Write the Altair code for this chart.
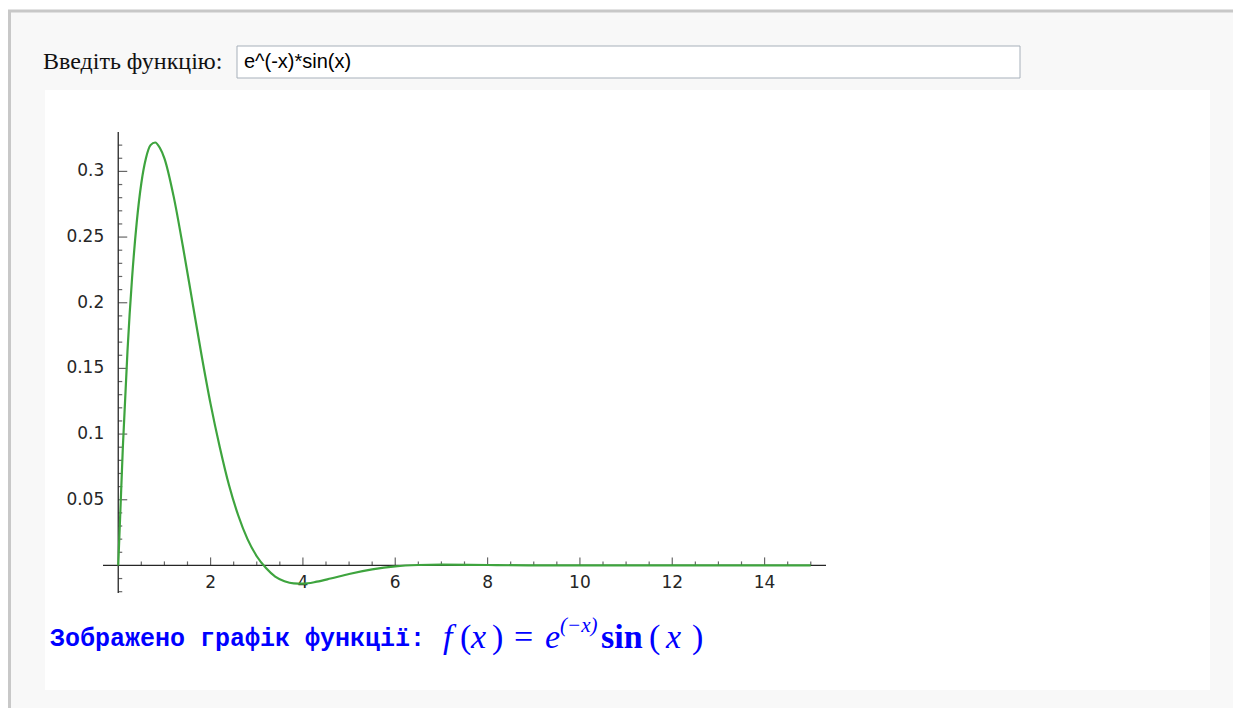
import altair as alt
import pandas as pd

# ---- curve samples (x, f(x)) ----
curve_x = [0, 0.1, 0.2, 0.3, 0.4, 0.5, 0.6, 0.7, 0.8, 0.9, 1.0, 1.2, 1.4, 1.6, 1.8,
           2.0, 2.2, 2.4, 2.6, 2.8, 3.0, 3.2, 3.4, 3.6, 3.8, 4.0, 4.3, 4.6, 5.0,
           5.5, 6.0, 6.5, 7.0, 8.0, 9.0, 10.0, 12.0, 15.0]
curve_y = [0.0, 0.090, 0.163, 0.219, 0.261, 0.291, 0.310, 0.320, 0.322, 0.318, 0.310,
           0.281, 0.243, 0.202, 0.161, 0.123, 0.090, 0.061, 0.038, 0.020, 0.007,
           -0.002, -0.0085, -0.012, -0.0137, -0.0139, -0.0124, -0.010, -0.0065,
           -0.003, -0.0007, 0.0003, 0.0006, 0.0003, 0.0, 0.0, 0.0, 0.0]

# ---- axes ----
x_range = [-0.33, 15.33]
y_range = [-0.021, 0.330]
x_major = [2, 4, 6, 8, 10, 12, 14]
x_labels = ["2", "4", "6", "8", "10", "12", "14"]
x_minor = [0.5, 1, 1.5, 2.5, 3, 3.5, 4.5, 5, 5.5, 6.5, 7, 7.5, 8.5, 9, 9.5,
           10.5, 11, 11.5, 12.5, 13, 13.5, 14.5, 15]
y_major = [0.05, 0.1, 0.15, 0.2, 0.25, 0.3]
y_labels = ["0.05", "0.1", "0.15", "0.2", "0.25", "0.3"]
y_minor = [-0.02, -0.01, 0.01, 0.02, 0.03, 0.04, 0.06, 0.07, 0.08, 0.09,
           0.11, 0.12, 0.13, 0.14, 0.16, 0.17, 0.18, 0.19, 0.21, 0.22, 0.23, 0.24,
           0.26, 0.27, 0.28, 0.29, 0.31, 0.32]

# ---- page texts ----
prompt_label = "Введіть функцію:"
input_text = "e^(-x)*sin(x)"
caption = "Зображено графік функції:"

curve_df = pd.DataFrame({"x": curve_x, "y": curve_y})
xmaj_df = pd.DataFrame({"t": x_major, "lab": x_labels})
ymaj_df = pd.DataFrame({"t": y_major, "lab": y_labels})
xmin_df = pd.DataFrame({"t": x_minor})
ymin_df = pd.DataFrame({"t": y_minor})
one = pd.DataFrame({"k": [0]})

XS = alt.Scale(domain=x_range, nice=False, zero=False)
YS = alt.Scale(domain=y_range, nice=False, zero=False)
AX = "#262626"
BLUE = "#0000ff"
SERIF = "Liberation Serif"


def deco_rect(x, x2, y, y2, **kw):
    return alt.Chart(one).mark_rect(**kw).encode(
        x=alt.value(x), x2=alt.value(x2), y=alt.value(y), y2=alt.value(y2))


def deco_text(x, y, text, **kw):
    return alt.Chart(one).mark_text(text=text, align="left", baseline="middle", **kw).encode(
        x=alt.value(x), y=alt.value(y))


frame = deco_rect(-93.5, 1138, -121, 800, fill="#f8f8f8", stroke="#c8c8c8", strokeWidth=3)
panel = deco_rect(-58, 1107, -42, 558, fill="#ffffff")
inbox = deco_rect(134, 917, -86, -54, fill="#ffffff", stroke="#a7b0ba", strokeWidth=1)
lab = deco_text(-60, -70, prompt_label, font=SERIF, fontSize=24, color="#111111")
intext = deco_text(141, -70, input_text, font="Liberation Sans", fontSize=20, color="#000000")
cap = deco_text(-53, 506, caption, font="Liberation Mono", fontSize=25, fontWeight="bold", color=BLUE)

# formula  f(x) = e^(-x) sin(x)
fk = dict(font=SERIF, fontSize=34, color=BLUE)
formula = [
    deco_text(340, 506, "f", fontStyle="italic", **fk),
    deco_text(357, 506, "(", **fk),
    deco_text(368, 506, "x", fontStyle="italic", **fk),
    deco_text(389, 506, ")", **fk),
    deco_text(411, 506, "=", **fk),
    deco_text(442, 506, "e", fontStyle="italic", **fk),
    deco_text(457, 494, "(−x)", font=SERIF, fontSize=21, fontStyle="italic", color=BLUE),
    deco_text(498, 506, "sin", font=SERIF, fontSize=34, fontWeight="bold", color=BLUE),
    deco_text(546, 506, "(", **fk),
    deco_text(563, 506, "x", fontStyle="italic", **fk),
    deco_text(589, 506, ")", **fk),
]

# axes lines
xaxis_line = alt.Chart(one).mark_rule(color=AX, strokeWidth=1.3).encode(
    x=alt.datum(x_range[0], scale=XS, axis=None), x2=alt.datum(x_range[1]),
    y=alt.datum(0, scale=YS, axis=None))
yaxis_line = alt.Chart(one).mark_rule(color=AX, strokeWidth=1.3).encode(
    x=alt.datum(0, scale=XS, axis=None),
    y=alt.datum(y_range[0], scale=YS, axis=None), y2=alt.datum(y_range[1]))

xmaj_ticks = alt.Chart(xmaj_df).mark_tick(orient="vertical", size=8, thickness=1.2, yOffset=-4, color=AX).encode(
    x=alt.X("t:Q", scale=XS, axis=None), y=alt.datum(0, scale=YS, axis=None))
xmin_ticks = alt.Chart(xmin_df).mark_tick(orient="vertical", size=4, thickness=1.2, yOffset=-2, color=AX).encode(
    x=alt.X("t:Q", scale=XS, axis=None), y=alt.datum(0, scale=YS, axis=None))
ymaj_ticks = alt.Chart(ymaj_df).mark_tick(orient="horizontal", size=9, thickness=1.2, xOffset=4.5, color=AX).encode(
    y=alt.Y("t:Q", scale=YS, axis=None), x=alt.datum(0, scale=XS, axis=None))
ymin_ticks = alt.Chart(ymin_df).mark_tick(orient="horizontal", size=4, thickness=1.2, xOffset=2, color=AX).encode(
    y=alt.Y("t:Q", scale=YS, axis=None), x=alt.datum(0, scale=XS, axis=None))

xlabs = alt.Chart(xmaj_df).mark_text(font="DejaVu Sans", fontSize=17, color=AX, baseline="middle",
                                     align="center", dy=18).encode(
    x=alt.X("t:Q", scale=XS, axis=None), y=alt.datum(0, scale=YS, axis=None), text="lab:N")
ylabs = alt.Chart(ymaj_df).mark_text(font="DejaVu Sans", fontSize=17, color=AX, baseline="middle",
                                     align="right", dx=-14).encode(
    y=alt.Y("t:Q", scale=YS, axis=None), x=alt.datum(0, scale=XS, axis=None), text="lab:N")

curve = alt.Chart(curve_df).mark_line(color="#3ea43e", strokeWidth=2.2, interpolate="monotone").encode(
    x=alt.X("x:Q", scale=XS, axis=None), y=alt.Y("y:Q", scale=YS, axis=None))

chart = alt.layer(
    frame, panel, inbox, lab, intext, cap, *formula,
    xaxis_line, yaxis_line, xmin_ticks, xmaj_ticks, ymin_ticks, ymaj_ticks,
    xlabs, ylabs, curve,
).properties(
    width=723, height=461,
    padding={"left": 95, "top": 124, "right": 407, "bottom": 115},
    autosize=alt.AutoSizeParams(type="none"),
    background="#ffffff",
).configure_view(stroke=None)

chart.save("out.html", embed_options={"renderer": "svg", "actions": False})
